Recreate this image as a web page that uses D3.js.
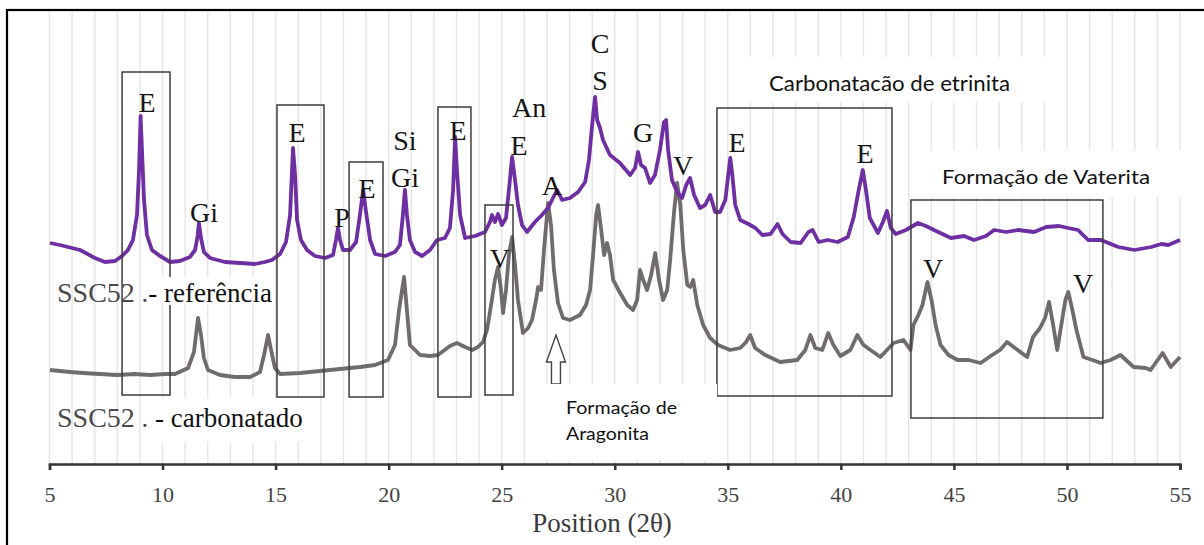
<!DOCTYPE html>
<html>
<head>
<meta charset="utf-8">
<script src="https://cdn.jsdelivr.net/npm/d3@7"></script>
<style>
  html, body { margin: 0; padding: 0; background: #fff; }
  svg { display: block; }
</style>
</head>
<body>
<svg id="chart" width="1204" height="545"></svg>
<script>
// ---------------- DATA ----------------
const xTicks = [5, 10, 15, 20, 25, 30, 35, 40, 45, 50, 55];
const axisTitle = "Position (2θ)";

// SSC52 - referência (purple), [2θ, intensity a.u.]
const referenciaTheta = [5.02,5.46,6.35,7.01,7.45,7.90,8.21,8.47,8.69,8.87,8.96,9.03,9.09,9.18,9.31,9.53,9.89,10.33,10.77,11.21,11.44,11.55,11.61,11.70,11.83,12.10,12.76,13.43,14.09,14.53,14.84,15.20,15.46,15.64,15.77,15.86,15.95,16.12,16.39,16.74,17.19,17.54,17.67,17.76,17.85,17.98,18.29,18.56,18.73,18.87,19.00,19.18,19.40,19.84,20.28,20.50,20.63,20.72,20.81,20.94,21.17,21.48,21.83,22.14,22.49,22.71,22.85,22.94,23.02,23.16,23.38,23.82,24.26,24.48,24.57,24.70,24.84,25.01,25.19,25.32,25.46,25.59,25.72,25.90,26.12,26.47,26.78,27.05,27.27,27.45,27.67,28.02,28.38,28.69,28.86,29.00,29.13,29.22,29.35,29.48,29.79,30.23,30.68,30.90,31.03,31.16,31.34,31.56,31.78,32.00,32.18,32.27,32.36,32.53,32.76,32.98,33.16,33.33,33.51,33.77,34.00,34.22,34.44,34.66,34.89,35.02,35.11,35.20,35.33,35.55,35.91,36.22,36.53,36.89,37.20,37.42,37.78,38.22,38.57,38.75,39.02,39.42,39.86,40.31,40.57,40.79,40.97,41.11,41.28,41.64,41.86,42.04,42.21,42.43,42.88,43.41,43.76,44.12,44.87,45.45,45.89,46.42,46.78,47.31,47.84,48.55,49.08,49.65,50.05,50.49,50.94,51.51,52.27,52.98,53.73,54.17,54.48,55.00];
const referenciaIntensity = [221,219,214,206,202,203,208,214,224,249,294,348,314,264,229,214,208,202,203,207,214,228,241,226,212,206,202,201,200,202,204,210,222,249,316,289,244,224,214,208,206,209,224,236,224,214,214,222,249,274,252,224,210,208,212,219,249,274,249,224,212,208,214,224,226,236,274,327,294,249,226,228,232,242,249,242,250,239,246,274,307,284,259,239,232,242,249,256,266,274,264,266,272,282,304,339,367,344,336,324,309,301,289,296,312,299,296,281,289,314,342,344,314,284,272,266,279,286,269,256,259,269,252,252,264,289,306,289,259,244,240,236,229,230,240,230,222,221,232,234,222,224,222,227,247,274,294,274,246,231,242,253,236,230,234,241,238,234,226,228,224,228,234,232,234,232,237,238,236,234,224,224,217,214,217,220,219,224];

// SSC52 - carbonatado (grey), [2θ, intensity a.u.]
const carbonatadoTheta = [5.02,5.91,6.48,7.23,7.99,8.78,9.45,10.11,10.55,11.13,11.39,11.57,11.70,11.83,12.01,12.54,13.20,13.87,14.31,14.49,14.67,14.80,14.97,15.20,16.08,16.96,17.85,18.73,19.40,19.97,20.28,20.46,20.68,20.77,20.94,21.39,21.83,22.18,22.71,23.02,23.38,23.69,23.95,24.17,24.35,24.53,24.70,24.84,24.97,25.06,25.19,25.32,25.46,25.59,25.72,25.94,26.17,26.34,26.52,26.61,26.74,26.87,27.05,27.18,27.31,27.49,27.71,28.02,28.46,28.73,28.91,29.04,29.18,29.26,29.40,29.53,29.66,29.79,29.93,30.24,30.55,30.81,30.99,31.12,31.26,31.43,31.61,31.79,31.96,32.14,32.32,32.45,32.63,32.76,32.90,33.03,33.21,33.34,33.47,33.65,33.91,34.22,34.57,35.10,35.55,35.81,35.99,36.21,36.65,37.32,38.07,38.43,38.65,38.87,39.18,39.44,39.67,39.98,40.42,40.73,41.00,41.31,41.75,42.33,42.77,43.08,43.21,43.43,43.61,43.83,44.01,44.19,44.41,44.76,45.16,45.65,46.18,46.69,47.04,47.35,47.70,48.24,48.50,48.81,49.03,49.21,49.39,49.57,49.75,49.93,50.06,50.24,50.42,50.73,51.13,51.49,51.93,52.37,52.95,53.48,53.70,54.23,54.41,54.59,55.00];
const carbonatadoIntensity = [94,92,91,90,89,90,89,90,90,96,112,146,129,106,94,89,87,87,92,109,129,114,96,90,91,93,95,97,99,104,119,154,187,164,119,109,108,109,118,121,117,114,117,122,134,159,184,197,174,151,174,209,227,199,164,131,136,144,164,177,174,214,261,239,194,161,146,144,149,159,174,209,249,259,234,209,221,209,184,171,159,154,164,194,184,174,189,211,184,164,174,204,254,281,259,214,179,177,184,159,139,126,119,114,116,122,129,116,109,102,104,114,129,116,114,131,119,108,114,129,119,114,107,121,124,114,139,149,159,182,164,139,119,109,104,104,101,109,114,122,116,107,127,136,146,162,139,114,139,164,172,154,134,107,104,101,104,109,97,96,94,111,104,97,107];

// Phase labels: text, 2θ, intensity
const peakLabelText  = ["E","Gi","E","P","E","Si","Gi","E","An","E","A","C","S","G","V","E","E","V","V","V"];
const peakLabelTheta = [9.31,11.83,15.95,17.94,19.04,20.72,20.72,23.07,26.21,25.77,27.22,29.35,29.35,31.25,33.02,35.41,41.07,24.92,44.08,50.71];
const peakLabelInt   = [352,242,322,237,266,314,277,324,347,309,269,411,374,322,289,312,301,196,186,171];

// Highlight boxes: 2θ range and intensity range
const boxTheta0 = [8.21,15.06,18.25,22.18,24.26,34.52,43.10];
const boxTheta1 = [10.33,17.14,19.75,23.64,25.50,42.26,51.59];
const boxIntTop = [392,359,302,357,259,356,264];
const boxIntBot = [69,67,67,67,69,68,46];

const seriesNames = ["SSC52", "- referência", "- carbonatado"];
const noteCarbonatacao = "Carbonatacão de etrinita";
const noteVaterita = "Formação de Vaterita";
const noteAragonita = ["Formação de", "Aragonita"];

// ---------------- CHART ----------------
const svg = d3.select("#chart");
const W = 1204, H = 545;
const x = d3.scaleLinear().domain([5, 55]).range([49.5, 1180]);
const y = d3.scaleLinear().domain([0, 454]).range([464, 10]);

const serif = "'Liberation Serif', 'Times New Roman', serif";
const sans = "Lato, 'Open Sans', sans-serif";

svg.append("rect").attr("width", W).attr("height", H).attr("fill", "#fff");

// vertical gridlines every 1°
svg.append("g").selectAll("line")
  .data(d3.range(5, 56, 1))
  .join("line")
  .attr("x1", d => x(d)).attr("x2", d => x(d))
  .attr("y1", y(454)).attr("y2", y(0))
  .attr("stroke", "#e6e6e6").attr("stroke-width", 1.5);

// series
const refData = referenciaTheta.map((t, i) => [t, referenciaIntensity[i]]);
const carbData = carbonatadoTheta.map((t, i) => [t, carbonatadoIntensity[i]]);
const line = d3.line().x(d => x(d[0])).y(d => y(d[1]));

svg.append("path").datum(carbData)
  .attr("d", line).attr("fill", "none")
  .attr("stroke", "#716c6c").attr("stroke-width", 3.8).attr("stroke-linejoin", "round");
svg.append("path").datum(refData)
  .attr("d", line).attr("fill", "none")
  .attr("stroke", "#6e2fa3").attr("stroke-width", 3.8).attr("stroke-linejoin", "round");

// highlight boxes
svg.append("g").selectAll("rect")
  .data(d3.range(boxTheta0.length))
  .join("rect")
  .attr("x", i => x(boxTheta0[i]))
  .attr("y", i => y(boxIntTop[i]))
  .attr("width", i => x(boxTheta1[i]) - x(boxTheta0[i]))
  .attr("height", i => y(boxIntBot[i]) - y(boxIntTop[i]))
  .attr("fill", "none").attr("stroke", "#3c3c3c").attr("stroke-width", 1.5);

// white masks behind annotation texts
const masks = [
  [747, 57, 298, 45],
  [928, 150, 255, 47],
  [147, 277, 126, 28],
  [150, 398, 155, 44]
];
svg.append("g").selectAll("rect").data(masks).join("rect")
  .attr("x", d => d[0]).attr("y", d => d[1]).attr("width", d => d[2]).attr("height", d => d[3])
  .attr("fill", "#fff");

// Aragonita arrow (outlined up-arrow)
{
  const ax = x(27.4), ay = y(129);
  const p = `M${ax},${ay} L${ax + 9.5},${ay + 27} L${ax + 4.5},${ay + 27} L${ax + 4.5},${ay + 49} L${ax - 4.5},${ay + 49} L${ax - 4.5},${ay + 27} L${ax - 9.5},${ay + 27} Z`;
  svg.append("path").attr("d", p).attr("fill", "#fff").attr("stroke", "#444").attr("stroke-width", 1.4);
}
svg.append("rect").attr("x", 543).attr("y", 384).attr("width", 174).attr("height", 76).attr("fill", "#fff");

// peak labels
svg.append("g").selectAll("text")
  .data(d3.range(peakLabelText.length))
  .join("text")
  .attr("x", i => x(peakLabelTheta[i]))
  .attr("y", i => y(peakLabelInt[i]))
  .attr("text-anchor", "middle")
  .attr("font-family", serif).attr("font-size", 28).attr("fill", "#151515")
  .text(i => peakLabelText[i]);

// series labels
function seriesLabel(by, suffix) {
  const t = svg.append("text").attr("y", by).attr("font-family", serif).attr("font-size", 27);
  t.append("tspan").attr("x", 57).attr("fill", "#4a4a4a").attr("font-size", 28).text(seriesNames[0]);
  t.append("tspan").attr("fill", "#4a4a4a").text(" .");
  t.append("tspan").attr("fill", "#111").text(suffix);
  return t;
}
seriesLabel(302, seriesNames[1]);
seriesLabel(427, " " + seriesNames[2]);

// sans annotations stretched to the reference widths
function noteText(str, x0, by, size, targetW) {
  return svg.append("text").attr("x", x0).attr("y", by)
    .attr("font-family", sans).attr("font-size", size).attr("fill", "#111")
    .attr("textLength", targetW).attr("lengthAdjust", "spacingAndGlyphs")
    .text(str);
}
noteText(noteCarbonatacao, 769, 91, 21, 241);
noteText(noteVaterita, 942, 184, 19, 208);
noteText(noteAragonita[0], 566, 414, 18, 111);
noteText(noteAragonita[1], 566, 440, 18, 83);

// x axis
const axis = svg.append("g").attr("transform", `translate(0,${y(0)})`)
  .call(d3.axisBottom(x).tickValues(xTicks).tickSize(6).tickSizeOuter(6).tickFormat(d3.format("d")));
axis.select(".domain").attr("stroke", "#333").attr("stroke-width", 2.5);
axis.selectAll(".tick line").attr("stroke", "#333").attr("stroke-width", 2.5);
axis.selectAll(".tick text")
  .attr("font-family", serif).attr("font-size", 22).attr("fill", "#444")
  .attr("y", 22.5).attr("dy", "0.71em");

svg.append("text").attr("x", 602).attr("y", 532).attr("text-anchor", "middle")
  .attr("font-family", serif).attr("font-size", 27).attr("fill", "#3a3a3a")
  .text(axisTitle);

// outer frame (extends beyond right/bottom edges as in the source)
svg.append("rect").attr("x", 7).attr("y", 10).attr("width", 1260).attr("height", 600)
  .attr("fill", "none").attr("stroke", "#000").attr("stroke-width", 2.2);
</script>
</body>
</html>
